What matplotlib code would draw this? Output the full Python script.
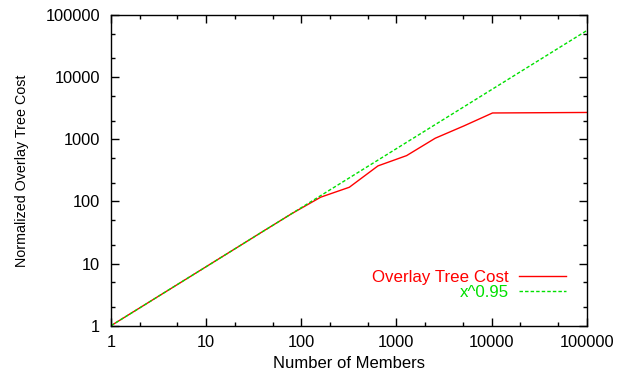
import numpy as np
import matplotlib
matplotlib.use('Agg')
import matplotlib.pyplot as plt
from matplotlib.ticker import LogLocator, FixedLocator, FuncFormatter, NullFormatter

# data (log-log)
members = [1, 10, 20, 40, 80, 160, 320, 640, 1280, 2560, 5120, 10240, 100000]
tree_cost = [1, 8.9, 17.2, 33.3, 64, 117, 169, 373, 546, 1040, 1640, 2650, 2700]

fit_x = [1, 100000]
fit_y = [1, 56000]

x_ticks = [1, 10, 100, 1000, 10000, 100000]
y_ticks = [1, 10, 100, 1000, 10000, 100000]

plt.rcParams['font.family'] = ['Liberation Sans', 'DejaVu Sans']

fig = plt.figure(figsize=(6.26, 3.71), dpi=100)
ax = fig.add_axes([0.1773, 0.1221, 0.9372 - 0.1773, 0.9596 - 0.1221])

ax.plot(members, tree_cost, color='#ff0000', lw=1.0, label='Overlay Tree Cost')
ax.plot(fit_x, fit_y, color='#00e000', lw=1.0, ls=(0, (2.5, 1.5)), label='x^0.95')

ax.set_xscale('log')
ax.set_yscale('log')
ax.set_xlim(1, 100000)
ax.set_ylim(1, 100000)

for axis, ticks in ((ax.xaxis, x_ticks), (ax.yaxis, y_ticks)):
    axis.set_major_locator(FixedLocator(ticks))
    axis.set_major_formatter(FuncFormatter(lambda v, p: '%d' % v))
    axis.set_minor_locator(LogLocator(base=10, subs=(2, 5)))
    axis.set_minor_formatter(NullFormatter())

ax.tick_params(which='both', direction='in', top=True, right=True, colors='black', width=1.0)
ax.tick_params(which='major', length=6, labelsize=11.8)
ax.tick_params(axis='x', which='major', pad=7)
ax.tick_params(axis='y', which='major', pad=8)
ax.tick_params(which='minor', length=3)
for s in ax.spines.values():
    s.set_linewidth(1.0)

ax.set_xlabel('Number of Members', fontsize=12, labelpad=4)
ax.set_ylabel('Normalized Overlay Tree Cost', fontsize=10.3, labelpad=12)

leg = ax.legend(loc='lower right', bbox_to_anchor=(0.97, 0.06), frameon=False,
                markerfirst=False, labelcolor='linecolor', fontsize=12.2,
                handlelength=2.75, labelspacing=0.0, handletextpad=0.6,
                borderaxespad=0.0)

fig.savefig('out.png', dpi=100)
